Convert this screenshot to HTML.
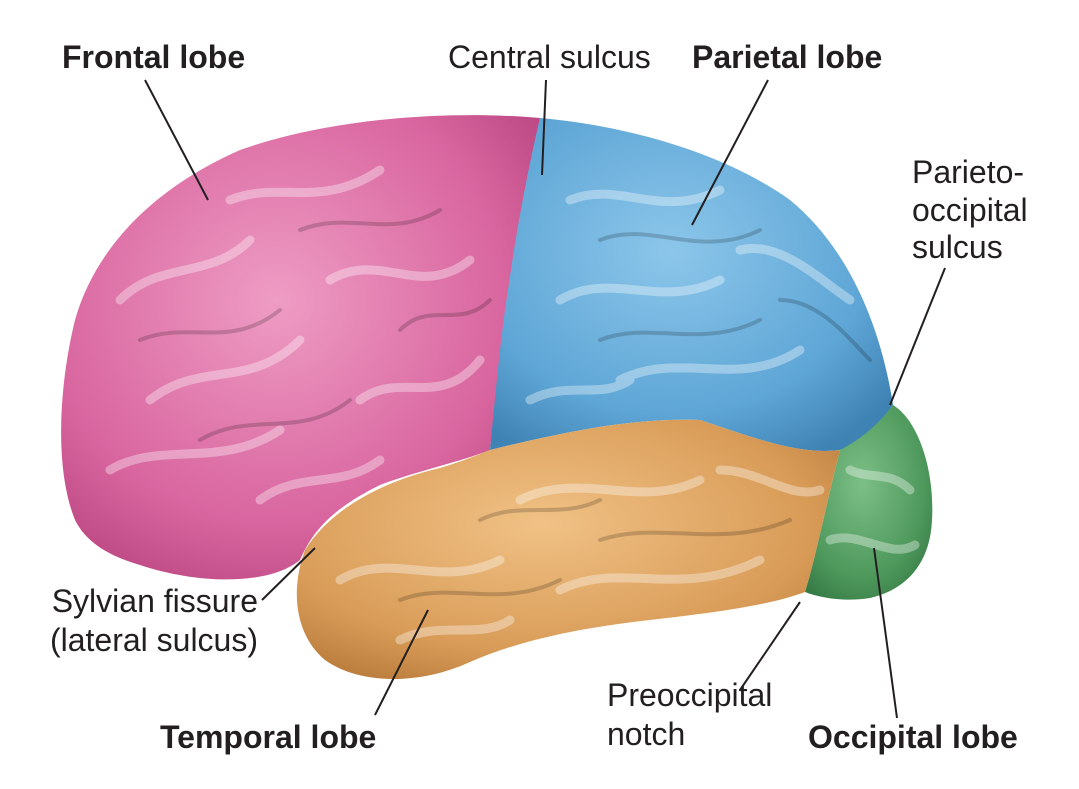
<!DOCTYPE html>
<html><head><meta charset="utf-8"><style>
html,body{margin:0;padding:0;background:#fff;}
svg{display:block;}
text{font-family:"Liberation Sans",Arial,sans-serif;font-size:32px;fill:#231f20;}
.b{font-weight:bold;}
</style></head><body>
<svg width="1079" height="789" viewBox="0 0 1079 789" xmlns="http://www.w3.org/2000/svg">
<defs>
<radialGradient id="gp" cx="0.45" cy="0.4" r="0.7"><stop offset="0" stop-color="#ee9cc4"/><stop offset="0.7" stop-color="#d8649e"/><stop offset="1" stop-color="#b8457f"/></radialGradient>
<radialGradient id="gb" cx="0.45" cy="0.4" r="0.7"><stop offset="0" stop-color="#8cc6ea"/><stop offset="0.7" stop-color="#5ea6d6"/><stop offset="1" stop-color="#3f83b4"/></radialGradient>
<radialGradient id="go" cx="0.45" cy="0.4" r="0.7"><stop offset="0" stop-color="#f0c185"/><stop offset="0.7" stop-color="#d99c58"/><stop offset="1" stop-color="#b77a3a"/></radialGradient>
<radialGradient id="gg" cx="0.45" cy="0.4" r="0.7"><stop offset="0" stop-color="#7cbf86"/><stop offset="0.7" stop-color="#4e985c"/><stop offset="1" stop-color="#357a44"/></radialGradient>
</defs>
<path fill="url(#gp)" d="M75,520 C55,470 58,390 75,320 C95,250 150,190 240,150 C330,118 450,110 540,118 C530,170 515,260 505,330 C498,390 492,430 490,450 C460,462 420,470 380,485 C340,505 315,525 300,560 C270,585 200,585 140,565 C105,555 85,540 75,520 Z"/>
<path fill="url(#gb)" d="M540,118 C620,125 720,150 790,200 C845,245 880,320 893,405 C875,430 858,445 840,450 C800,455 760,440 700,420 C640,418 580,428 490,450 C495,400 500,340 508,290 C518,220 530,160 540,118 Z"/>
<path fill="url(#gg)" d="M893,405 C918,420 935,470 932,520 C930,565 905,590 870,598 C845,602 820,598 805,592 C815,560 825,510 840,450 C860,440 878,425 893,405 Z"/>
<path fill="url(#go)" d="M490,450 C580,428 640,418 700,420 C760,440 800,455 840,450 C825,510 815,560 805,592 C770,605 720,612 650,620 C580,628 520,640 470,662 C420,685 360,685 325,660 C295,635 290,590 305,550 C330,510 380,482 440,468 C460,462 475,456 490,450 Z"/>
<g fill="none" stroke="#ffffff" stroke-opacity="0.35" stroke-width="9" stroke-linecap="round">
<path d="M120,300 C160,260 210,280 250,240 M150,400 C200,360 250,390 300,340 M230,200 C280,180 320,210 380,170 M330,280 C380,250 420,300 470,260 M110,470 C160,440 220,470 280,430 M360,400 C400,370 440,410 480,360 M260,500 C300,470 340,490 380,460"/>
<path d="M570,200 C620,180 660,220 720,190 M560,300 C610,270 660,310 720,280 M620,380 C680,350 740,390 800,350 M740,250 C780,240 820,280 850,300 M530,400 C570,380 600,400 630,380"/>
<path d="M340,580 C390,550 440,590 500,560 M520,500 C580,470 640,510 700,480 M560,590 C620,560 680,600 760,560 M720,470 C760,470 790,500 820,490 M400,640 C440,620 480,640 510,620"/>
<path d="M850,470 C870,480 890,470 910,490 M830,540 C860,530 890,560 915,545"/>
</g>
<g fill="none" stroke="#000000" stroke-opacity="0.18" stroke-width="4" stroke-linecap="round">
<path d="M140,340 C190,320 230,350 280,310 M200,440 C250,410 300,440 350,400 M300,230 C350,210 390,240 440,210 M400,330 C430,300 460,330 490,300"/>
<path d="M600,240 C650,220 700,260 760,230 M600,340 C650,320 700,350 760,320 M780,300 C820,300 850,340 870,360"/>
<path d="M400,600 C450,580 500,610 560,580 M600,540 C660,520 720,550 790,520 M480,520 C520,500 560,520 600,500"/>
</g>
<g stroke="#231f20" stroke-width="2" fill="none">
<line x1="145" y1="80" x2="208" y2="200"/>
<line x1="546" y1="80" x2="542" y2="175"/>
<line x1="768" y1="80" x2="692" y2="225"/>
<line x1="945" y1="268" x2="890" y2="405"/>
<line x1="262" y1="600" x2="315" y2="548"/>
<line x1="375" y1="715" x2="428" y2="610"/>
<line x1="740" y1="690" x2="800" y2="602"/>
<line x1="897" y1="718" x2="874" y2="548"/>
</g>
<text class="b" x="62" y="68">Frontal lobe</text>
<text x="448" y="68">Central sulcus</text>
<text class="b" x="692" y="68">Parietal lobe</text>
<text x="912" y="183">Parieto-</text>
<text x="912" y="221">occipital</text>
<text x="912" y="258">sulcus</text>
<text x="258" y="612" text-anchor="end">Sylvian fissure</text>
<text x="258" y="651" text-anchor="end">(lateral sulcus)</text>
<text class="b" x="160" y="748">Temporal lobe</text>
<text x="607" y="706">Preoccipital</text>
<text x="607" y="745">notch</text>
<text class="b" x="808" y="748">Occipital lobe</text>
</svg>
</body></html>
